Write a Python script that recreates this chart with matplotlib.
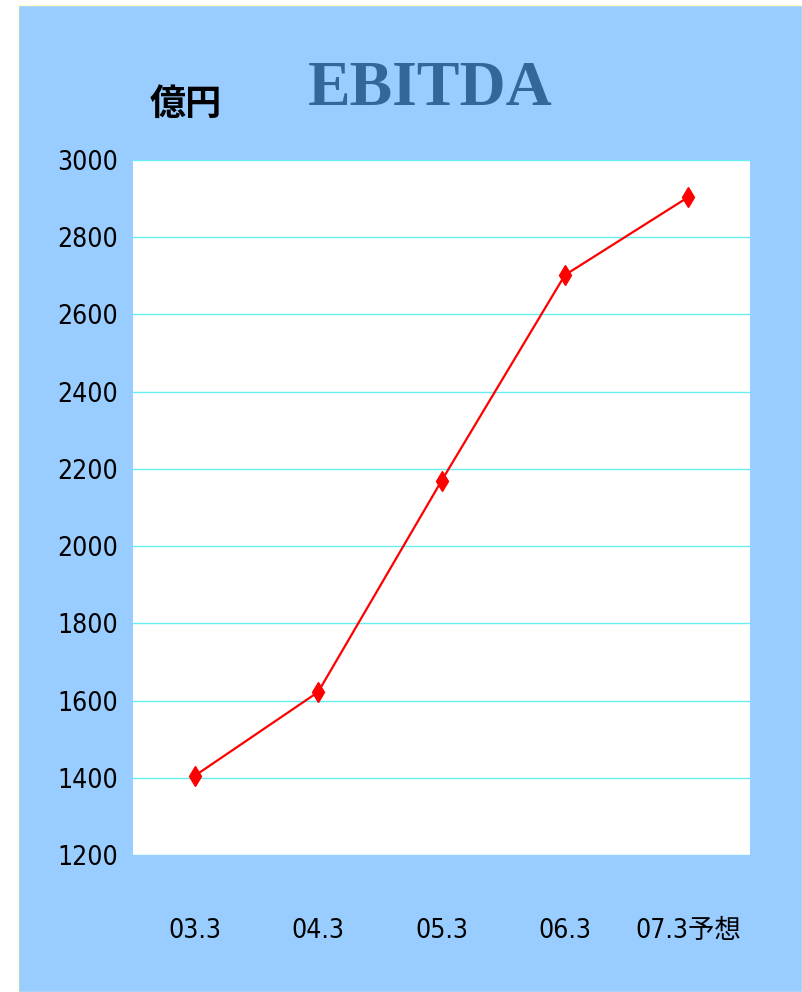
import matplotlib.pyplot as plt
from matplotlib.patches import Rectangle

# Chart data
periods = ["03.3", "04.3", "05.3", "06.3", "07.3予想"]
ebitda = [1405, 1622, 2169, 2702, 2904]
y_ticks = [1200, 1400, 1600, 1800, 2000, 2200, 2400, 2600, 2800, 3000]

BG_BLUE = "#99CCFF"
TICK_FONT = ["Liberation Sans Narrow", "DejaVu Sans", "Noto Sans CJK JP"]


def build_chart() -> None:
    fig = plt.figure(figsize=(8.02, 9.92), dpi=100, facecolor="white")

    # Blue panel behind everything, leaving a thin white strip at left and top
    fig.patches.append(Rectangle((18 / 802, 0), 1 - 18 / 802, 1 - 5 / 992,
                                 transform=fig.transFigure, facecolor=BG_BLUE,
                                 edgecolor="#FFFFCC", linewidth=1.0, zorder=-10))

    ax = fig.add_axes([133 / 802, 137 / 992, 617 / 802, 695 / 992])
    ax.set_zorder(1)
    ax.set_facecolor("white")

    x = range(len(periods))
    ax.plot(x, ebitda, color="red", linewidth=1.6, marker="d",
            markersize=10, markerfacecolor="red", markeredgecolor="red", zorder=3)

    ax.set_xlim(-0.5, len(periods) - 0.5)
    ax.set_ylim(y_ticks[0], y_ticks[-1])
    ax.set_yticks(y_ticks)
    ax.set_xticks(list(x))
    ax.set_xticklabels(periods)

    ax.grid(axis="y", color="#66EEF5", linewidth=1.0)
    ax.set_axisbelow(True)
    for spine in ax.spines.values():
        spine.set_visible(False)

    ax.tick_params(axis="both", length=0)
    ax.tick_params(axis="y", pad=11)
    ax.tick_params(axis="x", pad=45)
    for lbl in ax.get_yticklabels() + ax.get_xticklabels():
        lbl.set_fontfamily(TICK_FONT)
        lbl.set_fontstretch("condensed")
        lbl.set_fontsize(19)

    fig.text(0.536, 0.909, "EBITDA", ha="center", va="center",
             family=["Liberation Serif", "DejaVu Serif"], fontweight="bold",
             fontsize=46, color="#336699")
    fig.text(0.232, 0.895, "億円", ha="center", va="center",
             family=["Noto Sans CJK JP"], fontweight="bold", fontsize=26,
             color="black")

    fig.savefig("out.png", dpi=100, facecolor=fig.get_facecolor())


def main() -> None:
    build_chart()


if __name__ == "__main__":
    main()
